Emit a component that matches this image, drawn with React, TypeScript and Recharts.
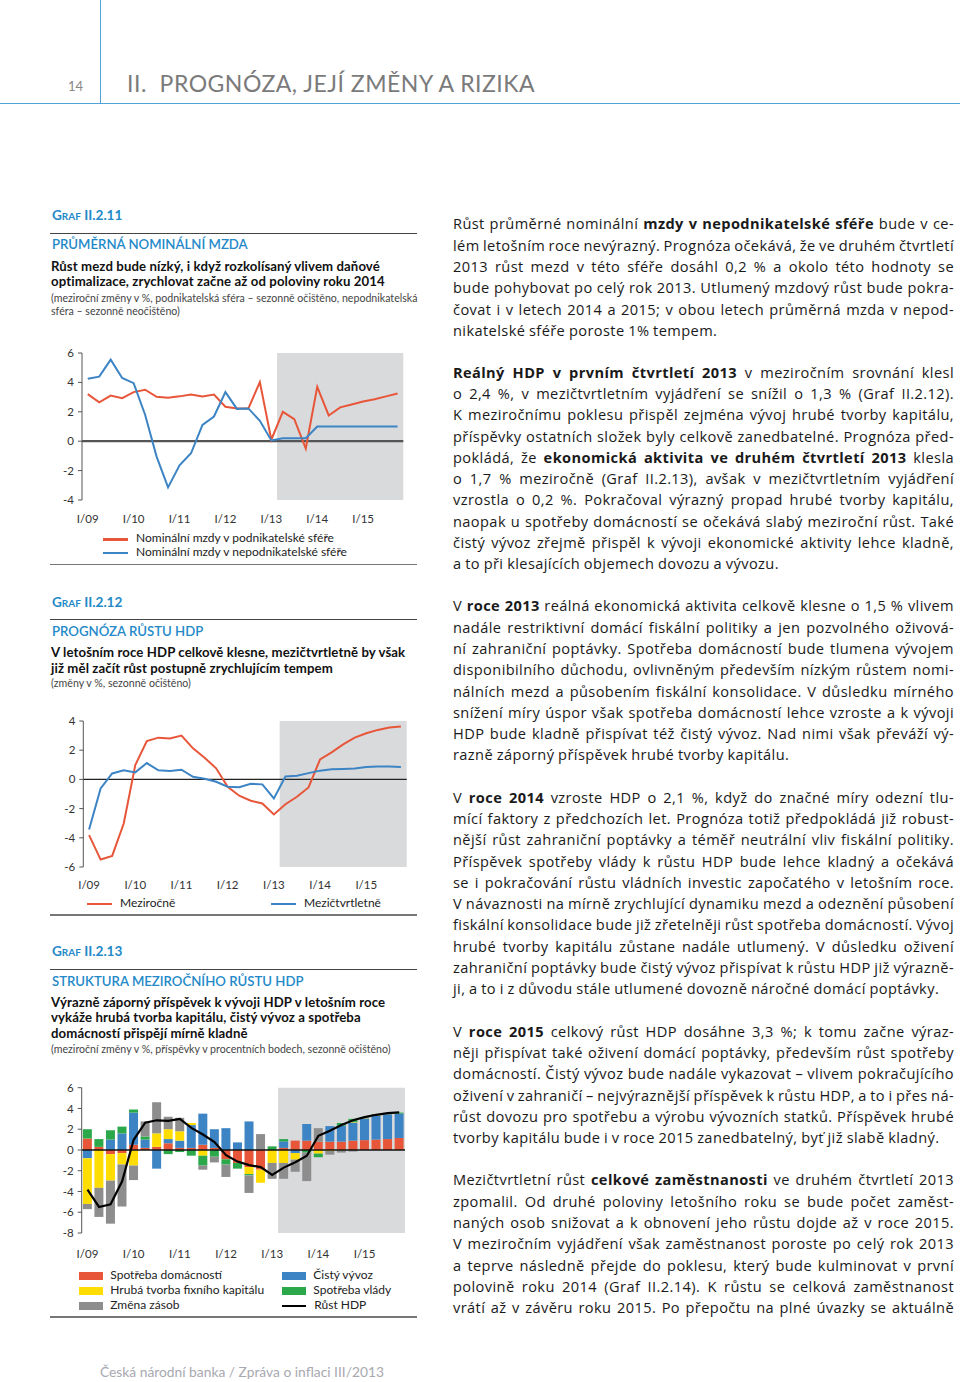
import React from 'react';
import { ComposedChart, Line, Bar, XAxis, YAxis, ReferenceArea, ReferenceLine } from 'recharts';

// ---------- data ----------
const quarters = [
  'I/09', 'II/09', 'III/09', 'IV/09', 'I/10', 'II/10', 'III/10', 'IV/10',
  'I/11', 'II/11', 'III/11', 'IV/11', 'I/12', 'II/12', 'III/12', 'IV/12',
  'I/13', 'II/13', 'III/13', 'IV/13', 'I/14', 'II/14', 'III/14', 'IV/14',
  'I/15', 'II/15', 'III/15', 'IV/15',
];
const yearTickIdx = [0, 4, 8, 12, 16, 20, 24];

// Graf II.2.11
const wagesBusiness = [3.2, 2.64, 3.1, 2.93, 3.34, 3.5, 3.02, 2.95, 3.05, 3.18, 3.05, 3.18, 2.34, 2.23, 2.23, 4.02, 0.1, 2.0, 1.5, -0.5, 3.7, 1.75, 2.3, 2.5, 2.7, 2.85, 3.05, 3.25];
const wagesNonBusiness = [4.25, 4.39, 5.55, 4.3, 3.95, 1.8, -1.05, -3.14, -1.64, -0.82, 1.11, 1.68, 3.34, 2.2, 2.23, 1.39, 0.05, 0.2, 0.2, 0.2, 1.0, 1.0, 1.0, 1.0, 1.0, 1.0, 1.0, 1.0];

// Graf II.2.12
const gdpYoY = [-3.82, -5.49, -5.24, -3.02, 0.98, 2.63, 2.86, 2.81, 3.0, 2.13, 1.49, 0.76, -0.5, -1.12, -1.46, -1.65, -2.4, -1.7, -1.19, -0.55, 1.37, 1.85, 2.4, 2.86, 3.16, 3.39, 3.55, 3.62];
const gdpQoQ = [-3.43, -0.62, 0.41, 0.62, 0.48, 1.12, 0.62, 0.57, 0.66, 0.18, 0.05, -0.16, -0.5, -0.53, -0.3, -0.34, -1.3, 0.2, 0.25, 0.43, 0.6, 0.7, 0.72, 0.75, 0.85, 0.88, 0.88, 0.85];

// Graf II.2.13
const householdCons = [1.1, 0.3, -0.4, -0.3, 0.5, 0.2, 0.3, 0.65, 0.2, 0.2, 0.5, 0.2, -0.9, -1.25, -1.65, -1.9, 0.0, 0.2, 0.9, 0.9, 0.8, 0.8, 0.8, 0.9, 0.95, 1.0, 1.05, 1.15];
const netExports = [-0.8, 0.0, 1.0, 1.6, 3.1, 0.8, -1.8, 0.4, 0.7, 2.2, 3.0, 1.8, 2.1, 0.73, 2.75, 0.0, 0.0, 0.63, -0.3, 1.6, 0.0, 1.5, 1.55, 1.75, 2.1, 2.3, 2.4, 2.35];
const gfcf = [-4.4, -3.65, -2.55, -1.1, -1.5, 0.0, 1.3, 0.95, 0.9, 0.2, -0.55, 0.0, 0.0, 0.0, -0.67, -1.26, -1.25, -1.25, -0.63, 0.0, -0.35, -0.1, -0.05, 0.05, 0.05, 0.05, 0.05, 0.0];
const govCons = [0.9, 0.75, 0.9, 0.65, 0.3, 0.3, 0.0, -0.4, -0.2, -0.55, -0.95, -0.65, -0.5, -0.55, -0.13, 0.0, 0.35, 0.22, 0.0, -0.25, -0.35, 0.0, 0.25, 0.3, 0.05, 0.1, 0.05, 0.1];
const inventories = [-0.5, -2.8, -4.15, -4.05, -1.4, 1.45, 3.0, 1.2, 1.3, 0.0, -0.4, -0.55, -1.2, 0.0, -1.69, 1.53, -1.53, -1.53, -1.17, -2.75, 1.3, -0.35, -0.2, -0.15, 0.0, 0.0, 0.0, 0.0];

const wageData = quarters.map((q, i) => ({ t: i, q, business: wagesBusiness[i], nonBusiness: wagesNonBusiness[i] }));
const gdpData = quarters.map((q, i) => ({ t: i, q, yoy: gdpYoY[i], qoq: gdpQoQ[i] }));
const structData = quarters.map((q, i) => ({
  q,
  household: householdCons[i],
  exports: netExports[i],
  gfcf: gfcf[i],
  gov: govCons[i],
  inv: inventories[i],
  gdp: gdpYoY[i],
}));

// ---------- styles ----------
const FONT = 'Lato, "Open Sans", sans-serif';
const BODY_FONT = '"Open Sans", "Noto Sans", sans-serif';
const BLUE_HEAD = '#2389c8';
const C_RED = '#e8563a';
const C_BLUE = '#3c84c4';
const C_YELLOW = '#ffdd00';
const C_GREEN = '#2aa84a';
const C_GRAY = '#8d8d8d';
const SHADE = '#d9dadc';
const AXIS = '#555';

const tickStyle = { fontSize: 11.5, fill: '#333', fontFamily: FONT };

// ---------- helpers ----------
const Txt = ({ x, y, size, children, style = {} }: any) => (
  <div
    style={{
      position: 'absolute', left: x, top: y - size * 0.68, fontSize: size,
      lineHeight: `${size * 1.2}px`, whiteSpace: 'pre', ...style,
    }}
  >
    {children}
  </div>
);

const renderMarked = (s: string) =>
  s.split('**').map((part, i) => (i % 2 === 1 ? <b key={i} style={{ fontWeight: 700 }}>{part}</b> : <span key={i}>{part}</span>));

const Para = ({ x, y, w, size, step, lines }: any) => (
  <>
    {lines.map((ln: string, i: number) => {
      const last = i === lines.length - 1 && !ln.endsWith('~');
      const text = ln.replace(/~$/, '');
      return (
        <div
          key={i}
          style={{
            position: 'absolute', left: x, top: y + i * step - size * 0.72, width: w, fontSize: size,
            fontFamily: BODY_FONT, letterSpacing: 0.4, wordSpacing: last ? -0.5 : -2,
            lineHeight: `${size * 1.3}px`, whiteSpace: 'nowrap', color: '#1a1a1a',
            textAlign: last ? 'left' : 'justify', textAlignLast: last ? 'left' : 'justify',
          } as any}
        >
          {renderMarked(text)}
        </div>
      );
    })}
  </>
);

const HLine = ({ x1, x2, y, color = '#555', h = 1.5 }: any) => (
  <div style={{ position: 'absolute', left: x1, top: y - h / 2, width: x2 - x1, height: h, background: color }} />
);

const GraphHeader = ({ y0, num, caption, bold, sub, ySep, yCap, yBold, ySub }: any) => (
  <>
    <Txt x={52} y={y0} size={13.6} style={{ color: BLUE_HEAD, fontWeight: 700, fontVariant: 'small-caps' }}>
      Graf {num}
    </Txt>
    <HLine x1={50} x2={417} y={ySep} color="#444" h={1.6} />
    <Txt x={52} y={yCap} size={13.2} style={{ color: BLUE_HEAD, fontWeight: 600 }}>{caption}</Txt>
    {bold.map((b: string, i: number) => (
      <Txt key={i} x={51} y={yBold[i]} size={13.2} style={{ color: '#111', fontWeight: 700, letterSpacing: 0.1 }}>{b}</Txt>
    ))}
    {sub.map((s: string, i: number) => (
      <Txt key={i} x={51} y={ySub[i]} size={10.6} style={{ color: '#444' }}>{s}</Txt>
    ))}
  </>
);

const LegendLine = ({ x, y, w = 25, color, label, h = 2.2 }: any) => (
  <>
    <div style={{ position: 'absolute', left: x, top: y - h / 2, width: w, height: h, background: color }} />
    <Txt x={x + w + 8} y={y} size={12} style={{ color: '#222' }}>{label}</Txt>
  </>
);

const LegendBox = ({ x, y, color, label }: any) => (
  <>
    <div style={{ position: 'absolute', left: x, top: y - 4, width: 24, height: 8, background: color }} />
    <Txt x={x + 31} y={y} size={12} style={{ color: '#222' }}>{label}</Txt>
  </>
);

// ---------- text ----------
const p1 = [
  'Růst průměrné nominální **mzdy v nepodnikatelské sféře** bude v ce-',
  'lém letošním roce nevýrazný. Prognóza očekává, že ve druhém čtvrtletí',
  '2013 růst mezd v této sféře dosáhl 0,2 % a okolo této hodnoty se',
  'bude pohybovat po celý rok 2013. Utlumený mzdový růst bude pokra-',
  'čovat i v letech 2014 a 2015; v obou letech průměrná mzda v nepod-',
  'nikatelské sféře poroste 1% tempem.',
];
const p2 = [
  '**Reálný HDP v prvním čtvrtletí 2013** v meziročním srovnání klesl',
  'o 2,4 %, v mezičtvrtletním vyjádření se snížil o 1,3 % (Graf II.2.12).',
  'K meziročnímu poklesu přispěl zejména vývoj hrubé tvorby kapitálu,',
  'příspěvky ostatních složek byly celkově zanedbatelné. Prognóza před-',
  'pokládá, že **ekonomická aktivita ve druhém čtvrtletí 2013** klesla',
  'o 1,7 % meziročně (Graf II.2.13), avšak v mezičtvrtletním vyjádření',
  'vzrostla o 0,2 %. Pokračoval výrazný propad hrubé tvorby kapitálu,',
  'naopak u spotřeby domácností se očekává slabý meziroční růst. Také',
  'čistý vývoz zřejmě přispěl k vývoji ekonomické aktivity lehce kladně,',
  'a to při klesajících objemech dovozu a vývozu.',
];
const p3 = [
  'V **roce 2013** reálná ekonomická aktivita celkově klesne o 1,5 % vlivem',
  'nadále restriktivní domácí fiskální politiky a jen pozvolného oživová-',
  'ní zahraniční poptávky. Spotřeba domácností bude tlumena vývojem',
  'disponibilního důchodu, ovlivněným především nízkým růstem nomi-',
  'nálních mezd a působením fiskální konsolidace. V důsledku mírného',
  'snížení míry úspor však spotřeba domácností lehce vzroste a k vývoji',
  'HDP bude kladně přispívat též čistý vývoz. Nad nimi však převáží vý-',
  'razně záporný příspěvek hrubé tvorby kapitálu.',
];
const p4 = [
  'V **roce 2014** vzroste HDP o 2,1 %, když do značné míry odezní tlu-',
  'mící faktory z předchozích let. Prognóza totiž předpokládá již robust-',
  'nější růst zahraniční poptávky a téměř neutrální vliv fiskální politiky.',
  'Příspěvek spotřeby vlády k růstu HDP bude lehce kladný a očekává',
  'se i pokračování růstu vládních investic započatého v letošním roce.',
  'V návaznosti na mírně zrychlující dynamiku mezd a odeznění působení',
  'fiskální konsolidace bude již zřetelněji růst spotřeba domácností. Vývoj',
  'hrubé tvorby kapitálu zůstane nadále utlumený. V důsledku oživení',
  'zahraniční poptávky bude čistý vývoz přispívat k růstu HDP již výrazně-',
  'ji, a to i z důvodu stále utlumené dovozně náročné domácí poptávky.',
];
const p5 = [
  'V **roce 2015** celkový růst HDP dosáhne 3,3 %; k tomu začne výraz-',
  'něji přispívat také oživení domácí poptávky, především růst spotřeby',
  'domácností. Čistý vývoz bude nadále vykazovat – vlivem pokračujícího',
  'oživení v zahraničí – nejvýraznější příspěvek k růstu HDP, a to i přes ná-',
  'růst dovozu pro spotřebu a výrobu vývozních statků. Příspěvek hrubé',
  'tvorby kapitálu bude i v roce 2015 zanedbatelný, byť již slabě kladný.',
];
const p6 = [
  'Mezičtvrtletní růst **celkové zaměstnanosti** ve druhém čtvrtletí 2013',
  'zpomalil. Od druhé poloviny letošního roku se bude počet zaměst-',
  'naných osob snižovat a k obnovení jeho růstu dojde až v roce 2015.',
  'V meziročním vyjádření však zaměstnanost poroste po celý rok 2013',
  'a teprve následně přejde do poklesu, který bude kulminovat v první',
  'polovině roku 2014 (Graf II.2.14). K růstu se celková zaměstnanost',
  'vrátí až v závěru roku 2015. Po přepočtu na plné úvazky se aktuálně~',
];

// ---------- charts ----------
const WageChart = () => (
  <ComposedChart width={370} height={190} data={wageData} margin={{ top: 13, right: 6.7, bottom: 0, left: 6 }}>
    <ReferenceArea x1={16.5} x2={27.5} y1={-4} y2={6} fill={SHADE} fillOpacity={1} stroke="none" />
    <XAxis
      dataKey="t" type="number" domain={[-0.5, 27.5]} ticks={yearTickIdx}
      tickFormatter={(v: number) => quarters[v]} axisLine={false} tickLine={false}
      tickSize={0} tickMargin={15} height={30} tick={tickStyle} interval={0}
    />
    <YAxis
      domain={[-4, 6]} ticks={[-4, -2, 0, 2, 4, 6]} width={36} tickSize={4} tickMargin={4}
      axisLine={{ stroke: AXIS }} tickLine={{ stroke: AXIS }} tick={tickStyle} interval={0}
    />
    <ReferenceLine y={0} stroke="#555" strokeWidth={2.2} />
    <Line dataKey="business" stroke={C_RED} strokeWidth={2} dot={false} isAnimationActive={false} type="linear" />
    <Line dataKey="nonBusiness" stroke={C_BLUE} strokeWidth={2} dot={false} isAnimationActive={false} type="linear" />
  </ComposedChart>
);

const GdpChart = () => (
  <ComposedChart width={372} height={197} data={gdpData} margin={{ top: 21, right: 5.3, bottom: 0, left: 7.3 }}>
    <ReferenceArea x1={16.5} x2={27.5} y1={-6} y2={4} fill={SHADE} fillOpacity={1} stroke="none" />
    <XAxis
      dataKey="t" type="number" domain={[-0.5, 27.5]} ticks={yearTickIdx}
      tickFormatter={(v: number) => quarters[v]} axisLine={false} tickLine={false}
      tickSize={0} tickMargin={14.3} height={30} tick={tickStyle} interval={0}
    />
    <YAxis
      domain={[-6, 4]} ticks={[-6, -4, -2, 0, 2, 4]} width={36} tickSize={4} tickMargin={4}
      axisLine={{ stroke: AXIS }} tickLine={{ stroke: AXIS }} tick={tickStyle} interval={0}
    />
    <ReferenceLine y={0} stroke="#222" strokeWidth={1.4} />
    <Line dataKey="yoy" stroke={C_RED} strokeWidth={2} dot={false} isAnimationActive={false} type="linear" />
    <Line dataKey="qoq" stroke={C_BLUE} strokeWidth={2} dot={false} isAnimationActive={false} type="linear" />
  </ComposedChart>
);

const StructChart = () => (
  <ComposedChart
    width={370} height={188} data={structData} stackOffset="sign" barCategoryGap="10%"
    margin={{ top: 12.7, right: 5, bottom: 0, left: 5.7 }}
  >
    <ReferenceArea x1="II/13" x2="IV/15" y1={-8} y2={6} fill={SHADE} fillOpacity={1} stroke="none" />
    <XAxis
      dataKey="q" interval={3} axisLine={false} tickLine={false}
      tickSize={0} tickMargin={16.7} height={30} tick={tickStyle}
    />
    <YAxis
      domain={[-8, 6]} ticks={[-8, -6, -4, -2, 0, 2, 4, 6]} width={36} tickSize={4} tickMargin={4}
      axisLine={{ stroke: AXIS }} tickLine={{ stroke: AXIS }} tick={tickStyle} interval={0}
    />
    <Bar dataKey="household" stackId="s" fill={C_RED} isAnimationActive={false} />
    <Bar dataKey="exports" stackId="s" fill={C_BLUE} isAnimationActive={false} />
    <Bar dataKey="gfcf" stackId="s" fill={C_YELLOW} isAnimationActive={false} />
    <Bar dataKey="gov" stackId="s" fill={C_GREEN} isAnimationActive={false} />
    <Bar dataKey="inv" stackId="s" fill={C_GRAY} isAnimationActive={false} />
    <ReferenceLine y={0} stroke="#111" strokeWidth={1.4} />
    <Line dataKey="gdp" stroke="#000" strokeWidth={2.2} dot={false} isAnimationActive={false} type="linear" />
  </ComposedChart>
);

// ---------- page ----------
export default function App() {
  const step = 21.27;
  return (
    <div style={{ position: 'absolute', left: 0, top: 0, width: 960, height: 1382, background: '#fff', fontFamily: FONT, overflow: 'hidden' }}>
      {/* page header */}
      <div style={{ position: 'absolute', left: 99.5, top: 0, width: 1.3, height: 103, background: '#4fa3d6' }} />
      <HLine x1={0} x2={960} y={103.3} color="#4fa3d6" h={1.3} />
      <Txt x={68} y={88} size={13} style={{ color: '#888' }}>14</Txt>
      <Txt x={127} y={86} size={23} style={{ color: '#7a7a7a', letterSpacing: 0.5 }}>{'II.  PROGNÓZA, JEJÍ ZMĚNY A RIZIKA'}</Txt>

      {/* Graf II.2.11 */}
      <GraphHeader
        y0={216} num="II.2.11" caption="PRŮMĚRNÁ NOMINÁLNÍ MZDA"
        bold={['Růst mezd bude nízký, i když rozkolísaný vlivem daňové', 'optimalizace, zrychlovat začne až od poloviny roku 2014']}
        sub={['(meziroční změny v %, podnikatelská sféra – sezonně očištěno, nepodnikatelská', 'sféra – sezonně neočištěno)']}
        ySep={233.3} yCap={245.5} yBold={[268.3, 283.3]} ySub={[299.5, 312]}
      />
      <div style={{ position: 'absolute', left: 40, top: 340 }}><WageChart /></div>
      <LegendLine x={103} y={539.5} color={C_RED} label="Nominální mzdy v podnikatelské sféře" />
      <LegendLine x={103} y={553.3} color={C_BLUE} label="Nominální mzdy v nepodnikatelské sféře" />
      <HLine x1={50} x2={417} y={564.5} color="#777" h={1.5} />

      {/* Graf II.2.12 */}
      <GraphHeader
        y0={603} num="II.2.12" caption="PROGNÓZA RŮSTU HDP"
        bold={['V letošním roce HDP celkově klesne, mezičtvrtletně by však', 'již měl začít růst postupně zrychlujícím tempem']}
        sub={['(změny v %, sezonně očištěno)']}
        ySep={619.3} yCap={632.5} yBold={[653.5, 669.5]} ySub={[684.5]}
      />
      <div style={{ position: 'absolute', left: 40, top: 700 }}><GdpChart /></div>
      <LegendLine x={87} y={904} color={C_RED} label="Meziročně" />
      <LegendLine x={271} y={904} color={C_BLUE} label="Mezičtvrtletně" />
      <HLine x1={50} x2={417} y={915} color="#777" h={1.5} />

      {/* Graf II.2.13 */}
      <GraphHeader
        y0={952.7} num="II.2.13" caption="STRUKTURA MEZIROČNÍHO RŮSTU HDP"
        bold={['Výrazně záporný příspěvek k vývoji HDP v letošním roce', 'vykáže hrubá tvorba kapitálu, čistý vývoz a spotřeba', 'domácností přispějí mírně kladně']}
        sub={['(meziroční změny v %, příspěvky v procentních bodech, sezonně očištěno)']}
        ySep={969.5} yCap={983} yBold={[1003.5, 1019.3, 1035]} ySub={[1050]}
      />
      <div style={{ position: 'absolute', left: 40, top: 1075 }}><StructChart /></div>
      <LegendBox x={79.3} y={1276} color={C_RED} label="Spotřeba domácností" />
      <LegendBox x={79.3} y={1291} color={C_YELLOW} label="Hrubá tvorba fixního kapitálu" />
      <LegendBox x={79.3} y={1306} color={C_GRAY} label="Změna zásob" />
      <LegendBox x={282.3} y={1276} color={C_BLUE} label="Čistý vývoz" />
      <LegendBox x={282.3} y={1291} color={C_GREEN} label="Spotřeba vlády" />
      <LegendLine x={282.3} y={1306} w={24} h={2.6} color="#000" label="Růst HDP" />
      <HLine x1={50} x2={417} y={1317} color="#777" h={1.5} />

      {/* right column text */}
      <Para x={453} y={225} w={501} size={14.6} step={step} lines={p1} />
      <Para x={453} y={373.3} w={501} size={14.6} step={step} lines={p2} />
      <Para x={453} y={607} w={501} size={14.6} step={step} lines={p3} />
      <Para x={453} y={798.3} w={501} size={14.6} step={step} lines={p4} />
      <Para x={453} y={1032.3} w={501} size={14.6} step={step} lines={p5} />
      <Para x={453} y={1181} w={501} size={14.6} step={step} lines={p6} />

      {/* footer */}
      <Txt x={100} y={1373} size={13.8} style={{ color: '#a8a8b0' }}>Česká národní banka / Zpráva o inflaci III/2013</Txt>
    </div>
  );
}
